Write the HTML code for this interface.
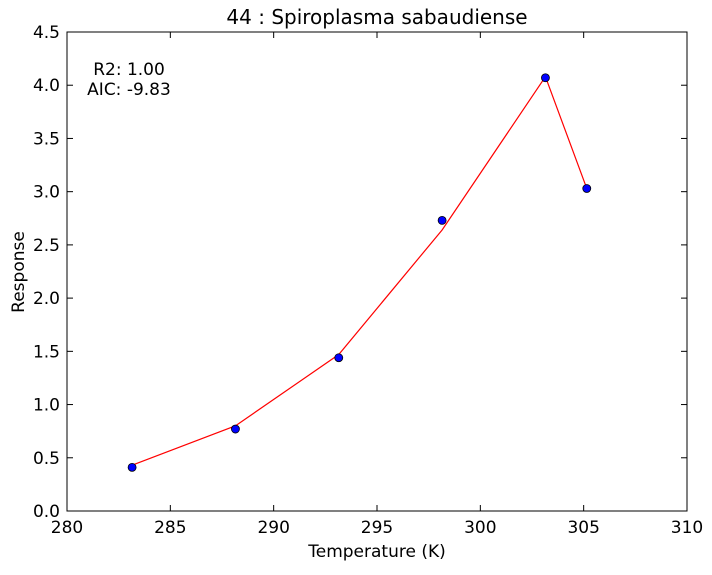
<!DOCTYPE html>
<html><head><meta charset="utf-8"><style>
body{margin:0;background:#fff;}
text{font-family:"DejaVu Sans","Liberation Sans",sans-serif;}
</style></head><body>
<svg id="chart" width="712" height="570" xmlns="http://www.w3.org/2000/svg">
<rect width="712" height="570" fill="#fff"/>
<g id="ticks"></g>
<polyline id="fit" fill="none" stroke="#ff0000" stroke-width="1.2"/>
<g id="pts"></g>
<rect x="67" y="32" width="620" height="479" fill="none" stroke="#000" stroke-width="1"/>
<text x="377" y="24" font-size="20" text-anchor="middle">44 : Spiroplasma sabaudiense</text>
<text x="377" y="557" font-size="17" text-anchor="middle">Temperature (K)</text>
<text x="24" y="272" font-size="17" text-anchor="middle" transform="rotate(-90 24 272)">Response</text>
<text x="129" y="75" font-size="17" text-anchor="middle">R2: 1.00</text>
<text x="129" y="95" font-size="17" text-anchor="middle">AIC: -9.83</text>
</svg>
<script>
const obsX=[283.15,288.15,293.15,298.15,303.15,305.15];
const obsY=[0.41,0.77,1.44,2.73,4.07,3.03];
const fitX=[283.15,288.15,293.15,298.15,303.15,305.15];
const fitY=[0.43,0.80,1.47,2.64,4.08,3.03];
const xTicks=[280,285,290,295,300,305,310];
const yTicks=[0.0,0.5,1.0,1.5,2.0,2.5,3.0,3.5,4.0,4.5];
const L=67,R=687,T=32,B=511;
const sx=v=>L+(v-280)/30*(R-L);
const sy=v=>B-(v/4.5)*(B-T);
const NS="http://www.w3.org/2000/svg";
const tg=document.getElementById('ticks');
function mk(tag,attrs,parent){const e=document.createElementNS(NS,tag);for(const k in attrs)e.setAttribute(k,attrs[k]);parent.appendChild(e);return e;}
xTicks.forEach(t=>{const x=sx(t);
 const a=mk('line',{x1:x,x2:x,y1:B,y2:B-6,stroke:'#000'},tg);
 
 
 mk('line',{x1:x,x2:x,y1:T,y2:T+6,stroke:'#000'},tg);
 const l=mk('text',{x:x,y:B+22,'font-size':17,'text-anchor':'middle'},tg);l.textContent=t;
 
 
});
yTicks.forEach(t=>{const y=sy(t);
 const a=mk('line',{x1:L,x2:L+6,y1:y,y2:y,stroke:'#000'},tg);
 
 
 mk('line',{x1:R,x2:R-6,y1:y,y2:y,stroke:'#000'},tg);
 const l=mk('text',{x:L-7,y:y+6,'font-size':17,'text-anchor':'end'},tg);l.textContent=t.toFixed(1);
 
 
});
document.getElementById('fit').setAttribute('points',fitX.map((x,i)=>sx(x)+','+sy(fitY[i])).join(' '));
const pg=document.getElementById('pts');
obsX.forEach((x,i)=>{const c=mk('circle',{cx:sx(x),cy:sy(obsY[i]),r:4,fill:'#0000ff',stroke:'#000','stroke-width':0.8},pg);
 
 
});
</script>
</body></html>
